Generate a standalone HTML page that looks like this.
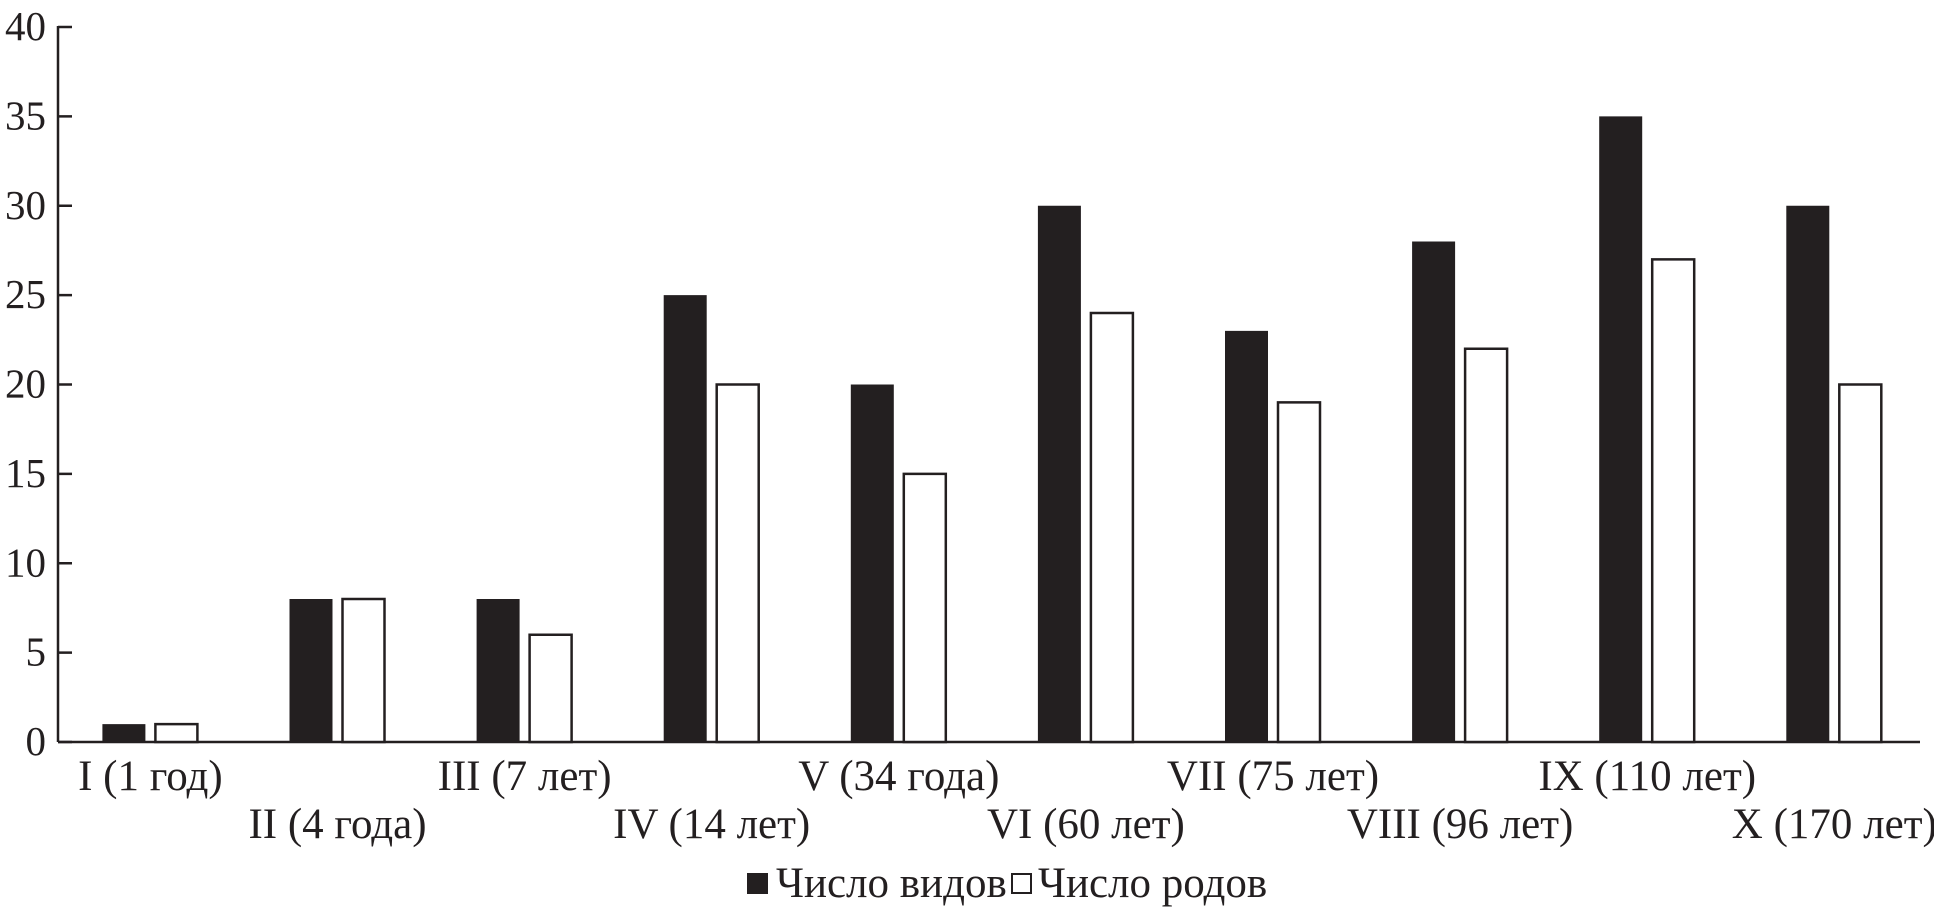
<!DOCTYPE html>
<html><head><meta charset="utf-8"><style>
body{margin:0;background:#fff}
svg text{font-family:"Liberation Serif",serif;fill:#231f20}
</style></head><body>
<svg id="c" width="1934" height="917" xmlns="http://www.w3.org/2000/svg"></svg>
<script>
const categories=["I (1 год)","II (4 года)","III (7 лет)","IV (14 лет)","V (34 года)","VI (60 лет)","VII (75 лет)","VIII (96 лет)","IX (110 лет)","X (170 лет)"];
const species=[1,8,8,25,20,30,23,28,35,30];
const genera=[1,8,6,20,15,24,19,22,27,20];
const yTicks=[0,5,10,15,20,25,30,35,40];
const svg=document.getElementById('c');
const NS="http://www.w3.org/2000/svg";
const x0=58,x1=1920,y0=742,yTop=27,yMax=40;
const y=v=>y0-(y0-yTop)*v/yMax;
const pitch=187.1,first=102.4,bw=43;
const gx=i=>first+i*pitch;
function mk(t,a){const e=document.createElementNS(NS,t);for(const k in a)e.setAttribute(k,a[k]);svg.appendChild(e);return e;}
const ax=mk('line',{x1:x0,y1:yTop-1,x2:x0,y2:y0,stroke:'#231f20','stroke-width':2.5});


const bx=mk('line',{x1:x0,y1:y0,x2:x1,y2:y0,stroke:'#231f20','stroke-width':2.5});


yTicks.forEach(v=>{
 const t=mk('line',{x1:x0,y1:y(v),x2:x0+14,y2:y(v),stroke:'#231f20','stroke-width':2.5});
 
 
 const l=mk('text',{x:46,y:y(v)+13,'text-anchor':'end','font-size':41});
 l.textContent=v;
 
 
});
categories.forEach((c,i)=>{
 const b=mk('rect',{x:gx(i),y:y(species[i]),width:bw,height:y0-y(species[i]),fill:'#231f20'});
 
 
 const w=mk('rect',{x:gx(i)+53,y:y(genera[i]),width:bw-1,height:y0-y(genera[i]),fill:'#fff',stroke:'#231f20','stroke-width':2.5});
 
 
 const l=mk('text',{x:gx(i)+48,y:i%2?838:790,'text-anchor':'middle','font-size':43});
 l.textContent=c;
 
 
});
const s1=mk('rect',{x:747,y:873,width:21,height:21,fill:'#231f20'});


const t1=mk('text',{x:776,y:897,'font-size':43});t1.textContent='Число видов';


const s2=mk('rect',{x:1012,y:874,width:19,height:19,fill:'#fff',stroke:'#231f20','stroke-width':2});


const t2=mk('text',{x:1038,y:897,'font-size':43});t2.textContent='Число родов';


</script>
</body></html>
